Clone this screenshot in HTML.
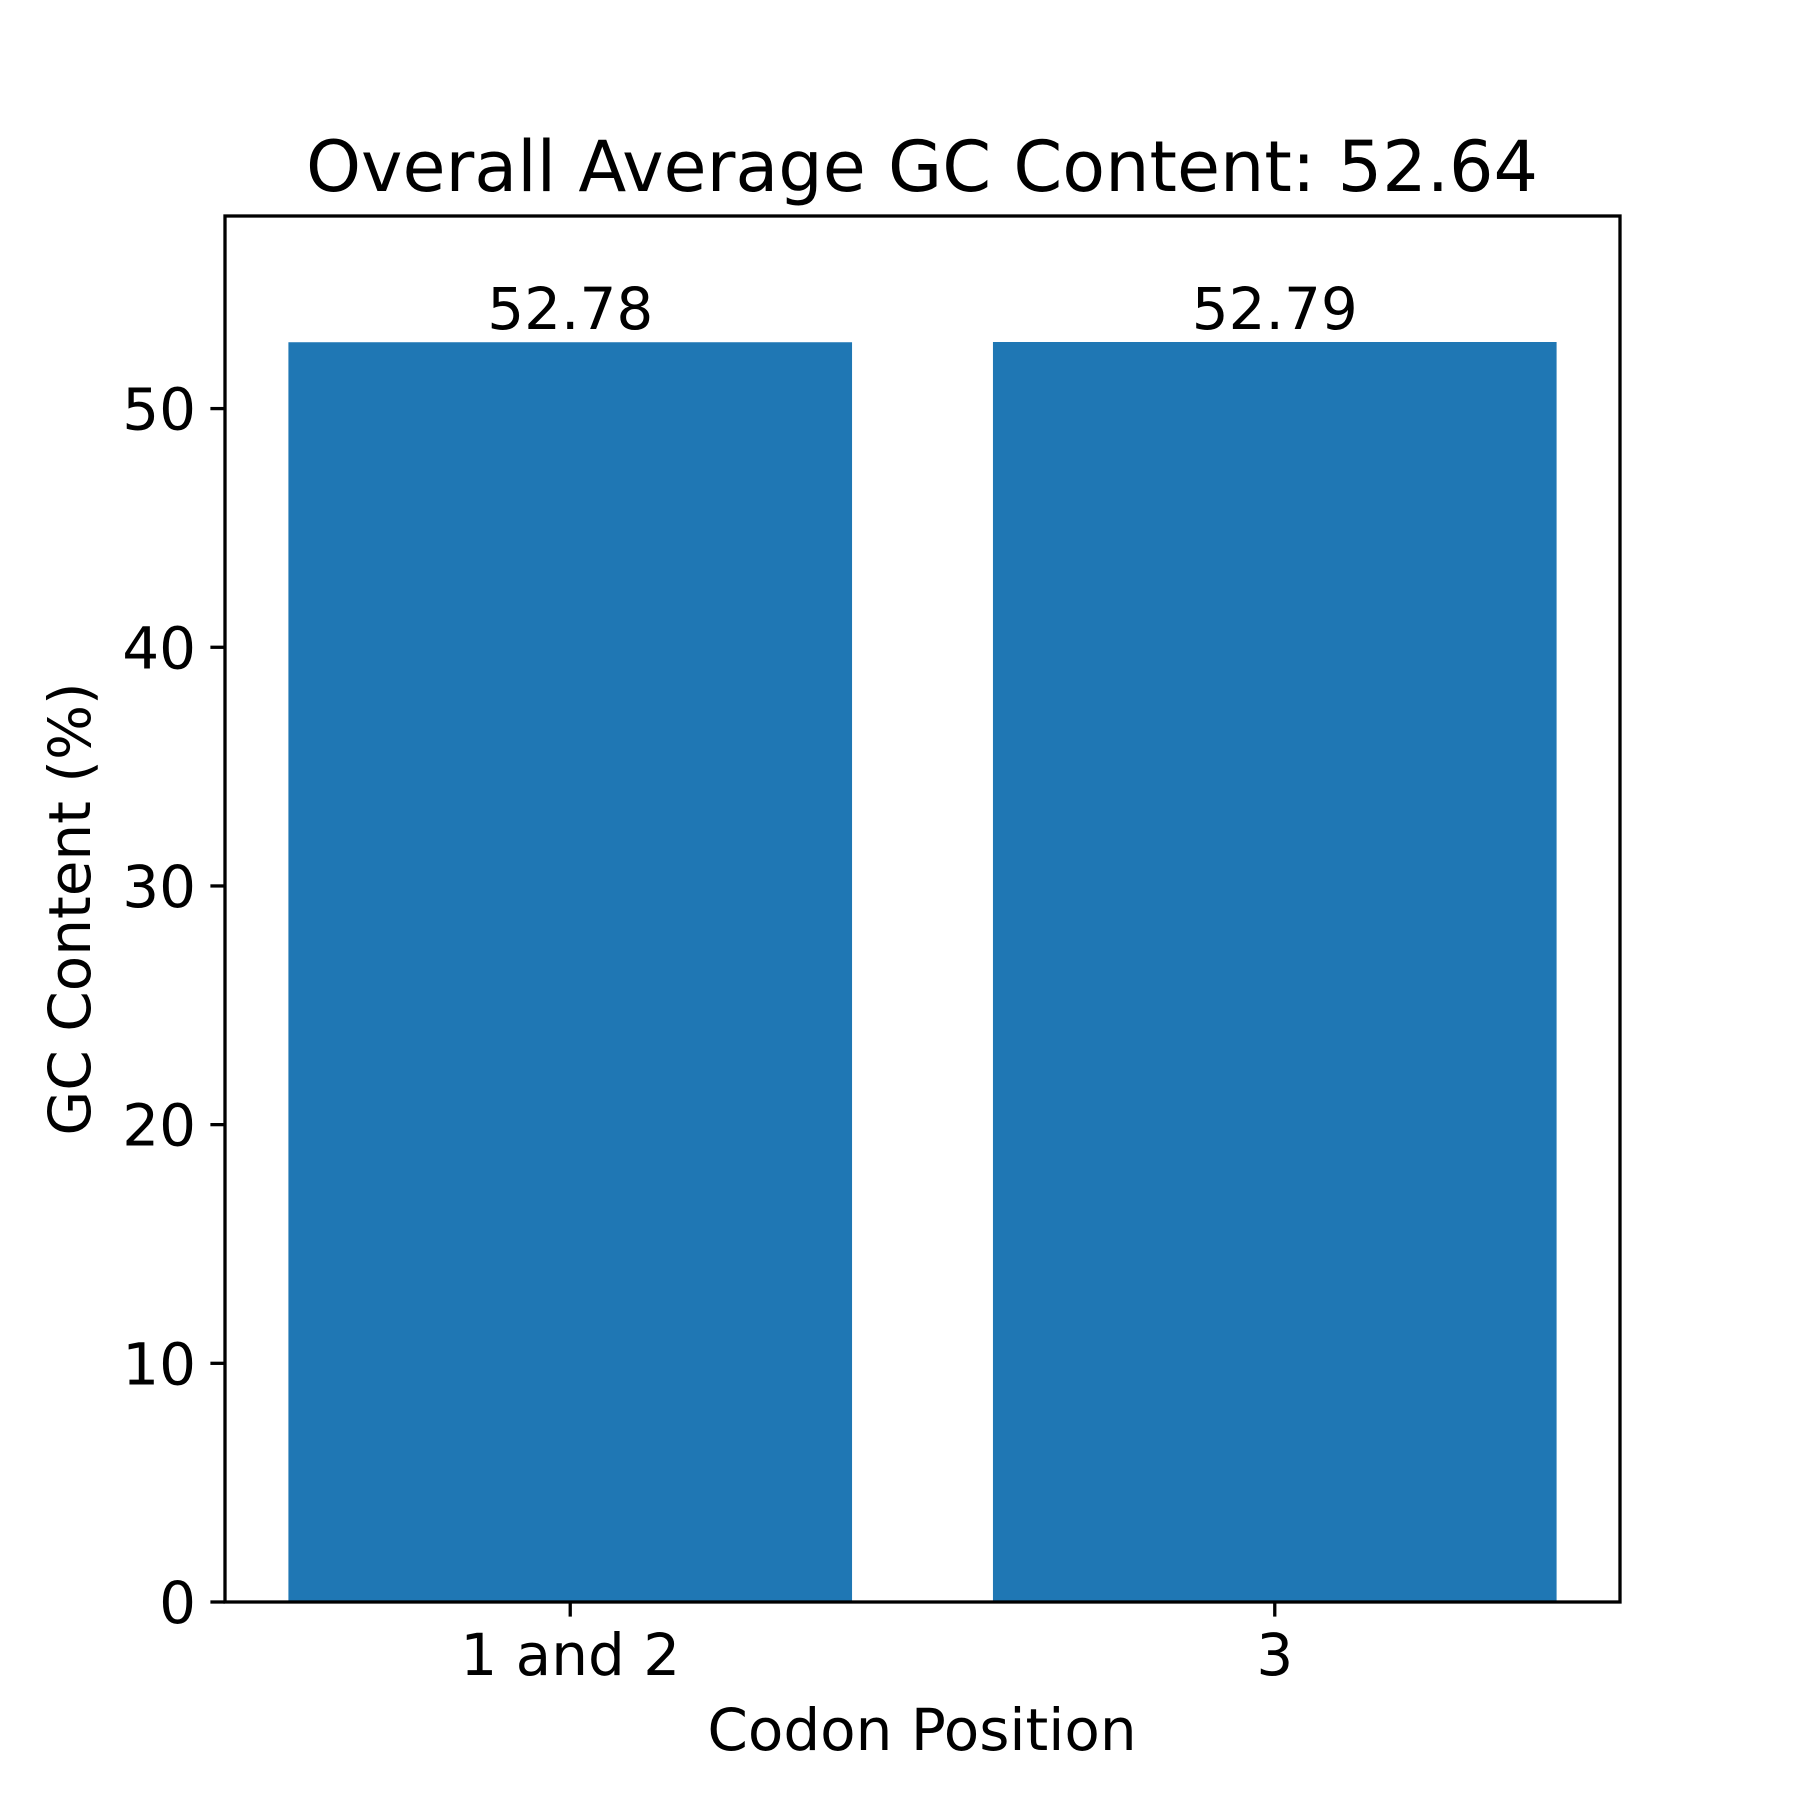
<!DOCTYPE html>
<html><head><meta charset="utf-8"><style>
html,body{margin:0;padding:0;background:#fff;}
svg{display:block;font-family:"DejaVu Sans","Liberation Sans",sans-serif;}
</style></head><body>
<svg id="chart" width="1800" height="1800" viewBox="0 0 1800 1800">
<rect width="1800" height="1800" fill="#fff"/>
<text x="922" y="191" font-size="70" text-anchor="middle">Overall Average GC Content: 52.64</text>
<g id="plot"></g>
<text x="922" y="1750" font-size="58" text-anchor="middle">Codon Position</text>
<text transform="translate(90,909) rotate(-90)" font-size="58" text-anchor="middle">GC Content (%)</text>
</svg>
<script>
const categories = ["1 and 2", "3"];
const values = [52.78, 52.79];
const valueLabels = ["52.78", "52.79"];
const yTicks = [0, 10, 20, 30, 40, 50];

const L = 225, R = 1620, T = 216, B = 1602;
const xmin = -0.49, xmax = categories.length - 1 + 0.49;
const ymax = Math.max(...values) * 1.1;
const xs = i => L + (i - xmin) / (xmax - xmin) * (R - L);
const ys = v => B - v / ymax * (B - T);
const NS = "http://www.w3.org/2000/svg";
const g = document.getElementById("plot");
function mk(tag, attrs, text) {
  const e = document.createElementNS(NS, tag);
  for (const k in attrs) e.setAttribute(k, attrs[k]);
  if (text !== undefined) e.textContent = text;
  g.appendChild(e);
  return e;
}
categories.forEach((c, i) => {
  const x0 = xs(i - 0.4), x1 = xs(i + 0.4);
  const bar = mk("rect", {x: x0, y: ys(values[i]), width: x1 - x0, height: B - ys(values[i]), fill: "#1f77b4"});
  
  
  const vl = mk("text", {x: xs(i), y: ys(values[i]) - 13, "font-size": 58, "text-anchor": "middle"}, valueLabels[i]);
  
  
  const tk = mk("line", {x1: xs(i), x2: xs(i), y1: B, y2: B + 14.6, stroke: "#000", "stroke-width": 3.3});
  
  
  const tl = mk("text", {x: xs(i), y: B + 73, "font-size": 58, "text-anchor": "middle"}, c);
  
  
});
yTicks.forEach(v => {
  const tk = mk("line", {x1: L - 14.6, x2: L, y1: ys(v), y2: ys(v), stroke: "#000", "stroke-width": 3.3});
  
  
  const tl = mk("text", {x: L - 29, y: ys(v) + 21, "font-size": 58, "text-anchor": "end"}, String(v));
  
  
});
const frame = mk("rect", {x: L, y: T, width: R - L, height: B - T, fill: "none", stroke: "#000", "stroke-width": 3.3});


</script>
</body></html>
